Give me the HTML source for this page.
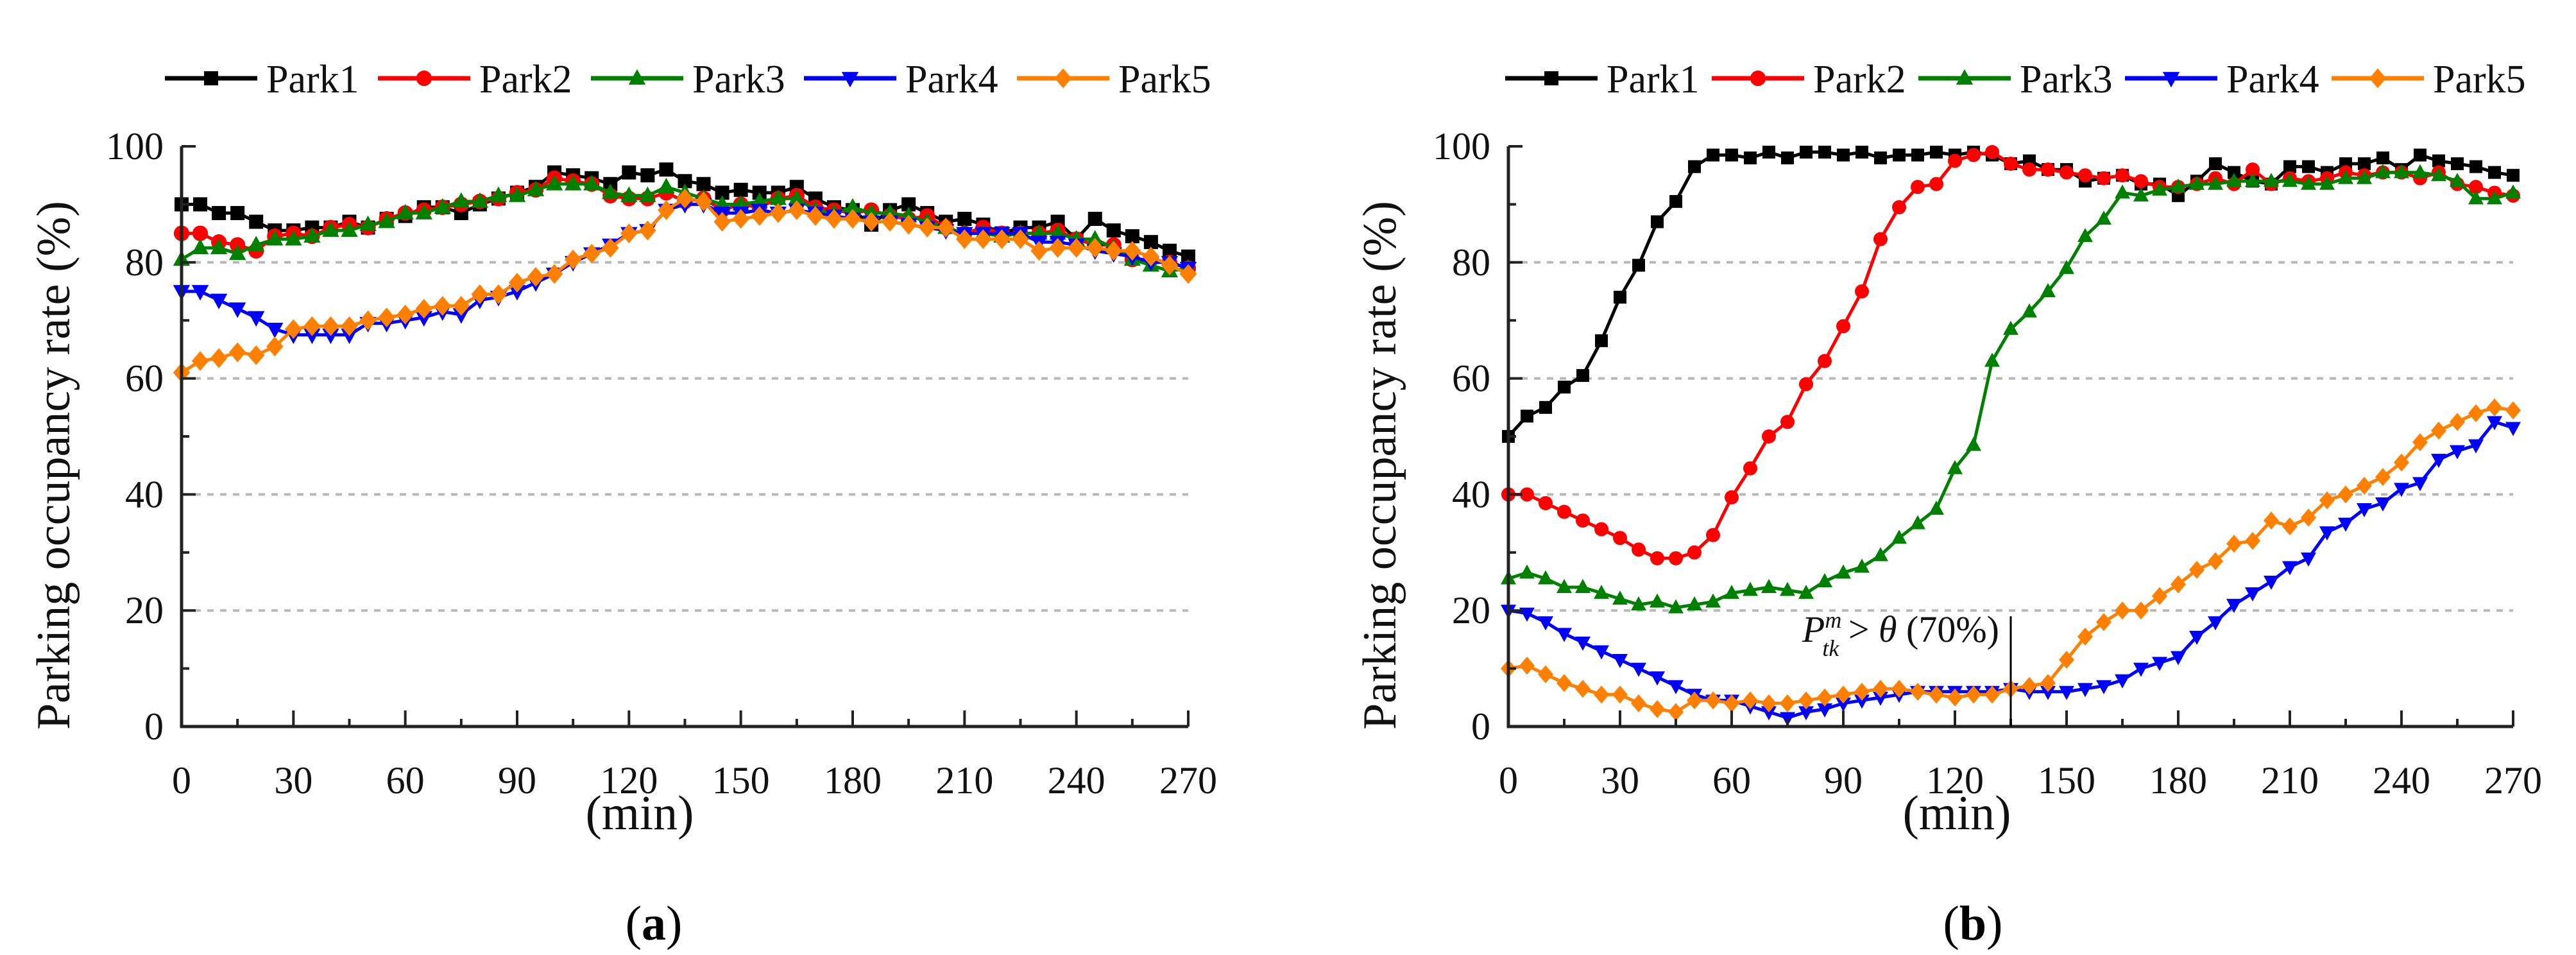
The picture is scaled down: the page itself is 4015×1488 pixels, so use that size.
<!DOCTYPE html>
<html><head><meta charset="utf-8">
<style>
html,body{margin:0;padding:0;background:#fff;}
svg{display:block;}
svg text{font-family:"Liberation Serif","DejaVu Serif",serif;}
</style></head>
<body>
<svg id="fig" width="4015" height="1488" viewBox="0 0 4015 1488" xmlns="http://www.w3.org/2000/svg" font-family="Liberation Serif, serif"></svg>
<script>
const times = [];
for (let t = 0; t <= 270; t += 5) times.push(t);
const seriesNames = ["Park1","Park2","Park3","Park4","Park5"];
const yTicks = [0,20,40,60,80,100];
const xTicks = [0,30,60,90,120,150,180,210,240,270];

const a_park1 = [90,90,88.5,88.5,87,85.5,85.5,86,86,87,86,87.5,88,89.5,89.5,88.5,90,91,92,93,95.5,95,94.5,93.5,95.5,95,96,94,93.5,92,92.5,92,92,93,91,89.5,89,86.5,89,90,88.5,87,87.5,86.5,85,86,86,87,84,87.5,85.5,84.5,83.5,82,81];
const a_park2 = [85,85,83.5,83,82,84.5,85,84.5,86,86.5,86,87.5,88.5,89,89.5,90,90.5,91,92,92.5,94.5,94,93.5,91.5,91,91,92,90.5,91,89,90,89.5,91,91.5,89.5,89,88.5,89,88,87.5,88,86,85,86,85,85,85,85.5,84,83,83,80.5,80.5,80,79];
const a_park3 = [80.5,82.5,82.5,81.5,83,84,84,84.5,85.5,85.5,86.5,87,88.5,88.5,89.5,90.5,90.5,91.5,91.5,92.5,93.5,93.5,93.5,92,91.5,91.5,93,92,91,90,90,90.5,91,91,89,88.5,89.5,88.5,88.5,88,87,86,85,85,84.5,85,85,85,84,84,82.5,80.5,79.5,78.5,79];
const a_park4 = [75,75,73.5,72,70.5,68.5,67.5,67.5,67.5,67.5,69.5,69.5,70,70.5,71.5,71,73.5,74,75,76.5,78,80,81.5,83,85,85.5,89,90,90,88.5,88.5,89,88.5,89,88.5,88,87.5,87,87,86.5,86,85.5,85,85,85,85,83.5,83.5,83,82,81.5,81,80,80,79];
const a_park5 = [61,63,63.5,64.5,64,65.5,68.5,69,69,69,70,70.5,71,72,72.5,72.5,74.5,74.5,76.5,77.5,78,80.5,81.5,82.5,85,85.5,89,91,90.5,87,87.5,88,88.5,89,88,87.5,87.5,87,87,86.5,86,86,84,84,84,84,82,82.5,82.5,82.5,82,82,81,79.5,78];

const b_park1 = [50,53.5,55,58.5,60.5,66.5,74,79.5,87,90.5,96.5,98.5,98.5,98,99,98,99,99,98.5,99,98,98.5,98.5,99,98.5,99,98.5,97,97.5,96,96,94,94.5,95,93.5,93.5,91.5,94,97,95.5,94,93.5,96.5,96.5,95.5,97,97,98,96,98.5,97.5,97,96.5,95.5,95];
const b_park2 = [40,40,38.5,37,35.5,34,32.5,30.5,29,29,30,33,39.5,44.5,50,52.5,59,63,69,75,84,89.5,93,93.5,97.5,98.5,99,97,96,96,95.5,95,94.5,95,94,93,93,93.5,94.5,93.5,96,93.5,94.5,94,94.5,95.5,95,95.5,95.5,94.5,95.5,93.5,93,92,91.5];
const b_park3 = [25.5,26.5,25.5,24,24,23,22,21,21.5,20.5,21,21.5,23,23.5,24,23.5,23,25,26.5,27.5,29.5,32.5,35,37.5,44.5,48.5,63,68.5,71.5,75,79,84.5,87.5,92,91.5,92.5,93,93.5,93.5,94,94,94,94,93.5,93.5,94.5,94.5,95.5,95.5,95.5,95,94,91,91,92];
const b_park4 = [20,19.5,18,16,14.5,13,11.5,10,8.5,7,5.5,4.5,4.5,3.5,2.5,1.5,2.5,3,4,4.5,5,5.5,6,6,6,6,6,6.5,6,6,6,6.5,7,8,10,11,12,15.5,18,21,23,25,27.5,29,33.5,35,37.5,38.5,41,42,46,47.5,48.5,52.5,51.5];
const b_park5 = [10,10.5,9,7.5,6.5,5.5,5.5,4,3,2.5,4.5,4.5,4,4.5,4,4,4.5,5,5.5,6,6.5,6.5,6,5.5,5,5.5,5.5,6.5,7,7.5,11.5,15.5,18,20,20,22.5,24.5,27,28.5,31.5,32,35.5,34.5,36,39,40,41.5,43,45.5,49,51,52.5,54,55,54.5];

const thresholdTime = [135];
const thresholdTop = [19];

const colors = ["#000000","#ff0000","#008000","#0000ff","#ff8000"];
const markers = ["square","circle","up","down","diamond"];
const NS = "http://www.w3.org/2000/svg";
const svg = document.getElementById("fig");
const FONT = "Liberation Serif, DejaVu Serif, serif";

function mk(tag, attrs, parent) {
  const e = document.createElementNS(NS, tag);
  for (const k in attrs) e.setAttribute(k, attrs[k]);
  if (tag === "text") e.setAttribute("font-family", FONT);
  (parent || svg).appendChild(e);
  return e;
}

function marker(type, x, y, color, parent, s) {
  let el;
  if (type === "square") el = mk("rect", {x:x-s*0.5, y:y-s*0.5, width:s, height:s, fill:color}, parent);
  else if (type === "circle") el = mk("circle", {cx:x, cy:y, r:s*0.55, fill:color}, parent);
  else if (type === "up") el = mk("polygon", {points:`${x},${y-s*0.65} ${x-s*0.6},${y+s*0.45} ${x+s*0.6},${y+s*0.45}`, fill:color}, parent);
  else if (type === "down") el = mk("polygon", {points:`${x},${y+s*0.65} ${x-s*0.6},${y-s*0.45} ${x+s*0.6},${y-s*0.45}`, fill:color}, parent);
  else el = mk("polygon", {points:`${x},${y-s*0.7} ${x+s*0.6},${y} ${x},${y+s*0.7} ${x-s*0.6},${y}`, fill:color}, parent);
  return el;
}

function drawChart(cfg) {
  const g = mk("g", {});
  
  
  const X = t => cfg.x0 + (t / 270) * (cfg.x1 - cfg.x0);
  const Y = v => cfg.y0 - (v / 100) * (cfg.y0 - cfg.y100);

  [20,40,60,80].forEach(v => {
    const l = mk("line", {x1:X(0), x2:X(270), y1:Y(v), y2:Y(v), stroke:"#b8b8b8", "stroke-width":4, "stroke-dasharray":"10 10"}, g);
    
    
  });

  const data = cfg.series;
  for (let s = 0; s < data.length; s++) {
    const sg = mk("g", {}, g);
    
    
    const pts = data[s].map((v,i) => X(times[i]).toFixed(1) + "," + Y(v).toFixed(1)).join(" ");
    const pl = mk("polyline", {points:pts, fill:"none", stroke:colors[s], "stroke-width":cfg.lw, "stroke-linejoin":"round"}, sg);
    
    
    data[s].forEach((v,i) => {
      const m = marker(markers[s], X(times[i]), Y(v), colors[s], sg, cfg.ms);
      
      
    });
  }

  const ax = mk("path", {d:`M${X(0)},${Y(100)} L${X(0)},${Y(0)} L${X(270)},${Y(0)}`, fill:"none", stroke:"#222", "stroke-width":5}, g);
  
  
  for (let v = 0; v <= 100; v += 10) {
    const len = v % 20 === 0 ? 22 : 12;
    const t = mk("line", {x1:X(0), x2:X(0)+len, y1:Y(v), y2:Y(v), stroke:"#222", "stroke-width":4}, g);
    
    
  }
  for (let v = 0; v <= 270; v += 15) {
    const len = v % 30 === 0 ? 25 : 12;
    const t = mk("line", {x1:X(v), x2:X(v), y1:Y(0), y2:Y(0)-len, stroke:"#222", "stroke-width":4}, g);
    
    
  }
  yTicks.forEach(v => {
    const t = mk("text", {x:X(0)-28, y:Y(v)+20, "font-size":60, "text-anchor":"end", fill:"#111"}, g);
    t.textContent = v;
    
    
  });
  xTicks.forEach(v => {
    const t = mk("text", {x:X(v), y:Y(0)+104, "font-size":60, "text-anchor":"middle", fill:"#111"}, g);
    t.textContent = v;
    
    
  });
  const yt = mk("text", {x:0, y:0, "font-size":74, "text-anchor":"middle", fill:"#111", transform:`translate(${cfg.ytx},${(cfg.y0+cfg.y100)/2+45}) rotate(-90)`}, g);
  yt.textContent = "Parking occupancy rate (%)";
  
  
  const xt = mk("text", {x:cfg.xtx, y:1292, "font-size":76, "text-anchor":"middle", fill:"#111"}, g);
  xt.textContent = "(min)";
  
  
  const cap = mk("text", {x:cfg.capx, y:1464, "font-size":76, "text-anchor":"middle", fill:"#000"}, g);
  cap.innerHTML = '(<tspan font-weight="bold">' + cfg.cap + '</tspan>)';
  
  

  const lg = mk("g", {}, g);
  
  
  seriesNames.forEach((n,i) => {
    const lx = cfg.legx + i * cfg.legdx, ly = 122;
    const eg = mk("g", {}, lg);
    
    
    mk("line", {x1:lx, x2:lx+144, y1:ly, y2:ly, stroke:colors[i], "stroke-width":7}, eg);
    marker(markers[i], lx+72, ly, colors[i], eg, 22);
    const t = mk("text", {x:lx+158, y:ly+22, "font-size":62, fill:"#111"}, eg);
    t.textContent = n;
  });

  if (cfg.annot) {
    const al = mk("line", {x1:X(thresholdTime[0]), x2:X(thresholdTime[0]), y1:Y(0), y2:Y(thresholdTop[0]), stroke:"#000", "stroke-width":3}, g);
    
    
    const at = mk("text", {x:X(thresholdTime[0])-18, y:1000, "font-size":58, "text-anchor":"end", fill:"#111"}, g);
    at.innerHTML = '<tspan font-style="italic">P</tspan><tspan font-style="italic" font-size="36" dy="-22">m</tspan><tspan font-style="italic" font-size="36" dx="-30" dy="44">tk</tspan><tspan dy="-22"> &gt; </tspan><tspan font-style="italic">θ</tspan><tspan> (70%)</tspan>';
    
    
  }
}

drawChart({name:"chart-a", x0:283, x1:1852, y0:1132, y100:228, lw:5, ms:22,
  series:[a_park1,a_park2,a_park3,a_park4,a_park5], ytx:108, xtx:997, capx:1019, cap:"a",
  legx:257, legdx:332, annot:false});
drawChart({name:"chart-b", x0:2351, x1:3917, y0:1132, y100:228, lw:5, ms:20,
  series:[b_park1,b_park2,b_park3,b_park4,b_park5], ytx:2175, xtx:3050, capx:3075, cap:"b",
  legx:2346, legdx:322, annot:true});
</script>
</body></html>
